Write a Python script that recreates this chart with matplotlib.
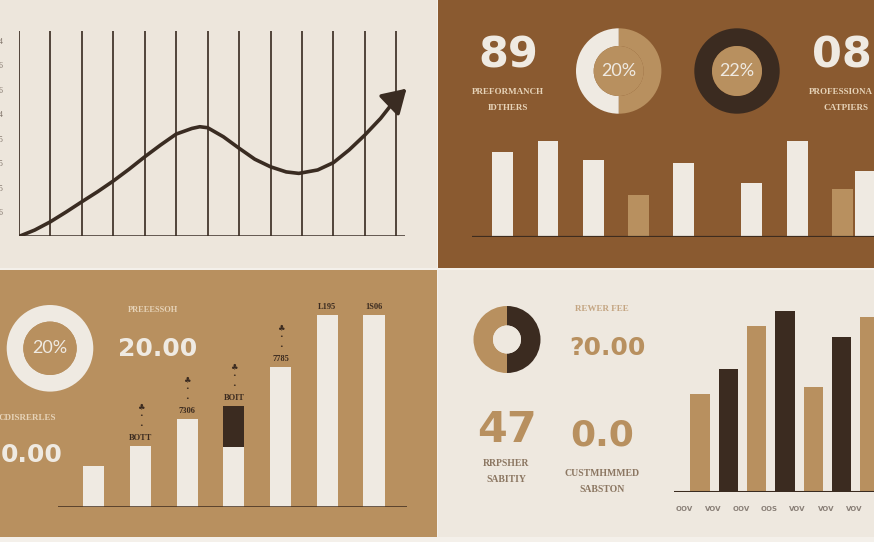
import matplotlib
matplotlib.use("Agg")
import matplotlib.pyplot as plt
from matplotlib.patches import Rectangle

W, H = 874, 542

CREAM = "#EEE8DF"
BROWN = "#8A5A30"
TAN = "#B8905F"
DARK = "#3B2B20"
BARC = "#EFEAE2"
LABEL_LIGHT = "#E6D3B8"

# top-left line chart
line_x = [0, 0.5, 1, 1.5, 2, 2.5, 3, 3.5, 4, 4.5, 5, 5.5, 5.75, 6, 6.5, 7, 7.5, 8, 8.5, 8.9, 9.5, 10, 10.5, 11, 11.5, 12]
line_y = [0, 0.26, 0.6, 1.0, 1.42, 1.83, 2.27, 2.75, 3.26, 3.74, 4.19, 4.42, 4.49, 4.45, 4.08, 3.61, 3.16, 2.85, 2.64, 2.58, 2.72, 3.02, 3.54, 4.15, 4.83, 5.65]
arrow_tip = (12.39, 6.13)
grid_x = list(range(13))
ytick_pos = [1, 2, 3, 4, 5, 6, 7, 8]
ytick_lab = ["6", "5", "5", "5", "4", "6", "6", "4"]

# top-right bars
tr_x = [0, 1, 2, 3, 4, 5.5, 6.5, 7.5, 8.0]
tr_h = [85, 96, 77, 42, 74, 54, 96, 48, 66]
tr_c = [BARC, BARC, BARC, TAN, BARC, BARC, BARC, TAN, BARC]

# bottom-left bars
bl_x = [0, 1, 2, 3, 4, 5, 6]
bl_h = [41, 61, 88, 60, 140, 192, 192]
bl_top = [0, 0, 0, 41, 0, 0, 0]
bl_lab = ["", "BOTT", "7306", "BOIT", "7785", "L195", "1S06"]
bl_mark = [False, True, True, True, True, False, False]

# bottom-right bars
br_x = [0, 1, 2, 3, 4, 5, 6]
br_h = [98, 123, 166, 181, 105, 155, 175]
br_c = [TAN, DARK, TAN, DARK, TAN, DARK, TAN]
br_lab = ["OOV", "VOV", "OOV", "OOS", "VOV", "VOV", "VOV"]

fig = plt.figure(figsize=(W / 100, H / 100), dpi=100)
fig.patch.set_facecolor("#F4F0EA")


def px_axes(x0, y0, x1, y1):
    return fig.add_axes([x0 / W, 1 - y1 / H, (x1 - x0) / W, (y1 - y0) / H])


bg = px_axes(0, 0, W, H)
bg.set_xlim(0, W)
bg.set_ylim(H, 0)
bg.axis("off")
bg.add_patch(Rectangle((0, 0), 437, 268, color="#EDE6DC", lw=0))
bg.add_patch(Rectangle((438, 0), 436, 268, color=BROWN, lw=0))
bg.add_patch(Rectangle((0, 270), 437, 267, color=TAN, lw=0))
bg.add_patch(Rectangle((438, 270), 436, 267, color=CREAM, lw=0))

serif = "Liberation Serif"
big = "DejaVu Sans"


def txt(x, y, s, size, color, family=serif, weight="bold", ha="center"):
    bg.text(x, y, s, fontsize=size, color=color, family=family, weight=weight,
            ha=ha, va="center")


def donut(cx, cy, r, r_in, vals, cols, inner, label=None, lcol=None, lsize=13):
    ax = px_axes(cx - r, cy - r, cx + r, cy + r)
    ax.pie(vals, colors=cols, radius=1, startangle=90, counterclock=False,
           wedgeprops=dict(width=1 - r_in / r, linewidth=0))
    ax.pie([1], colors=[inner], radius=r_in / r, wedgeprops=dict(linewidth=0))
    ax.set_xlim(-1, 1)
    ax.set_ylim(-1, 1)
    ax.set_aspect("auto")
    ax.axis("off")
    if label:
        ax.text(0, 0, label, fontsize=lsize, color=lcol, ha="center", va="center",
                family="Lato")


# ---- top-left line chart
ax = px_axes(19, 31, 405, 236.4)
ax.set_xlim(0, 386 / 31.44)
ax.set_ylim(0, 8.41)
ax.vlines(grid_x, 0, 8.41, color="#45382E", lw=1.3)
ax.axhline(0, color="#3B2F27", lw=1.8)
ax.plot(line_x, line_y, color="#3A2C22", lw=2.6, solid_capstyle="round")
ax.annotate("", xy=arrow_tip, xytext=(line_x[-1], line_y[-1]),
            arrowprops=dict(arrowstyle="-|>,head_length=0.9,head_width=0.55",
                            color="#3A2C22", lw=2.6, mutation_scale=16),
            annotation_clip=False)
for s in ax.spines.values():
    s.set_visible(False)
ax.set_xticks([])
ax.set_yticks(ytick_pos)
ax.set_yticklabels(ytick_lab, fontsize=5.5, color="#7A6D63", family=serif)
ax.tick_params(axis="y", length=0, pad=12)
ax.patch.set_alpha(0)

# ---- top-right panel
txt(508, 55, "89", 31, BARC, family=big)
txt(508, 91.7, "PREFORMANCH", 6.5, LABEL_LIGHT)
txt(508, 107.7, "IDTHERS", 6.5, LABEL_LIGHT)
txt(872, 55, "08", 31, BARC, family=big, ha="right")
txt(873, 91.7, "PROFESSIONA", 6.5, LABEL_LIGHT, ha="right")
txt(846.5, 107.7, "CATPIERS", 6.5, LABEL_LIGHT)
donut(618.7, 71, 42.7, 25, [50, 50], [TAN, BARC], TAN, "20%", BARC)
donut(737, 71, 42.7, 25, [100], [DARK], TAN, "22%", BARC)

ax = px_axes(472, 136.7, 874, 236.7)
ax.bar(tr_x, tr_h, width=0.46, color=tr_c, lw=0)
ax.set_xlim((472 - 502.7) / 45.3, (874 - 502.7) / 45.3)
ax.set_ylim(0, 100)
ax.axhline(0, color="#3E2C1E", lw=1.6)
ax.axis("off")

# ---- bottom-left panel
donut(50, 348.3, 43.3, 26.7, [100], [BARC], TAN, "20%", BARC)
txt(153.3, 310, "PREEESSOH", 6, LABEL_LIGHT)
txt(157.5, 349, "20.00", 18, BARC, family=big)
txt(56, 418.3, "CDISRERLES", 6.5, LABEL_LIGHT, ha="right")
txt(63, 455, "0.00", 18, BARC, family=big, ha="right")

ax = px_axes(58, 290, 406.7, 506.7)
ax.bar(bl_x, bl_h, width=0.45, color=BARC, lw=0)
ax.bar(bl_x, bl_top, bottom=bl_h, width=0.45, color=DARK, lw=0)
ax.set_xlim((58 - 93.8) / 46.7, (406.7 - 93.8) / 46.7)
ax.set_ylim(0, 216.7)
ax.axhline(0, color="#3E2C1E", lw=1.8)
ax.axis("off")
for x, h, t, lab, mk in zip(bl_x, bl_h, bl_top, bl_lab, bl_mark):
    top = h + t
    if lab:
        ax.annotate(lab, (x, top), xytext=(0, 5.6), textcoords="offset points",
                    ha="center", va="center", fontsize=6, color=DARK,
                    family=serif, weight="bold", annotation_clip=False)
    if mk:
        for dy in (14.9, 21.4):
            ax.annotate("\u2022", (x, top), xytext=(0, dy), textcoords="offset points",
                        ha="center", va="center", fontsize=4.5, color=DARK)
        ax.annotate("\u2663", (x, top), xytext=(0, 28.1), textcoords="offset points",
                    ha="center", va="center", fontsize=6, color=DARK,
                    family="DejaVu Sans")

# ---- bottom-right panel
donut(507, 339.5, 33.5, 14, [50, 50], [DARK, TAN], CREAM)
txt(602.3, 309.3, "REWER FEE", 6.5, "#C4A582")
txt(607, 348.3, "?0.00", 18, TAN, family=big)
txt(507.3, 430, "47", 31, TAN, family=big)
txt(602.5, 436, "0.0", 26, TAN, family=big)
txt(506, 463.3, "RRPSHER", 7, "#8C7762")
txt(506, 479.3, "SABITIY", 7, "#8C7762")
txt(601.7, 474, "CUSTMHMMED", 7, "#8C7762")
txt(601.7, 489.3, "SABSTON", 7, "#8C7762")

ax = px_axes(673.7, 291.7, 874, 491.7)
ax.bar(br_x, br_h, width=0.68, color=br_c, lw=0)
ax.set_xlim((673.7 - 700) / 28.3, (874 - 700) / 28.3)
ax.set_ylim(0, 200)
ax.axhline(0, color="#3A2B20", lw=2.2)
for s in ax.spines.values():
    s.set_visible(False)
ax.set_yticks([])
ax.set_xticks([x - 0.55 for x in br_x])
ax.set_xticklabels(br_lab, fontsize=5, color="#8A8078", weight="bold")
ax.tick_params(axis="x", length=0, pad=10)
ax.patch.set_alpha(0)

fig.savefig("out.png", dpi=100, facecolor=fig.get_facecolor())
